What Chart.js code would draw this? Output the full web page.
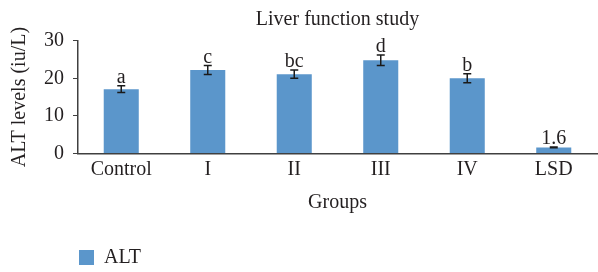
<!DOCTYPE html>
<html>
<head>
<meta charset="utf-8">
<script src="https://cdn.jsdelivr.net/npm/chart.js@4"></script>
<style>
  body { margin: 0; background: #fff; }
</style>
</head>
<body>
<canvas id="chart" width="598" height="272"></canvas>
<script>
const groups = ['Control', 'I', 'II', 'III', 'IV', 'LSD'];
const altValues = [17.1, 22.2, 21.1, 24.8, 20.0, 1.6];
const altErrors = [0.9, 1.2, 1.1, 1.4, 1.2, 0.1];
const letters = ['a', 'c', 'bc', 'd', 'b', '1.6'];
const yTicks = [0, 10, 20, 30];

const FONT = "'Liberation Serif', 'Times New Roman', serif";
const TEXT = '#231f20';
const SIZE = 20;

// error bars + letters above them
const errorBars = {
    id: 'errorBars',
    afterDatasetsDraw(chart) {
        const ctx = chart.ctx;
        const meta = chart.getDatasetMeta(0);
        const y = chart.scales.y;
        ctx.save();
        ctx.strokeStyle = '#1a1a1a';
        ctx.lineWidth = 1.5;
        ctx.fillStyle = TEXT;
        ctx.font = SIZE + 'px ' + FONT;
        ctx.textAlign = 'center';
        ctx.textBaseline = 'alphabetic';
        meta.data.forEach((bar, i) => {
            const x = bar.x;
            const top = y.getPixelForValue(altValues[i] + altErrors[i]);
            const bottom = y.getPixelForValue(altValues[i] - altErrors[i]);
            ctx.beginPath();
            ctx.moveTo(x, top); ctx.lineTo(x, bottom);
            ctx.moveTo(x - 4, top); ctx.lineTo(x + 4, top);
            ctx.moveTo(x - 4, bottom); ctx.lineTo(x + 4, bottom);
            ctx.stroke();
            ctx.fillText(letters[i], x, top - 3);
        });
        ctx.restore();
    }
};

new Chart(document.getElementById('chart').getContext('2d'), {
    type: 'bar',
    data: {
        labels: groups,
        datasets: [{
            label: 'ALT',
            data: altValues,
            backgroundColor: '#5b96cb',
            categoryPercentage: 1,
            barPercentage: 0.405
        }]
    },
    options: {
        responsive: false,
        animation: false,
        layout: { padding: { left: 8, right: 1, top: 0, bottom: -5.5 } },
        plugins: {
            title: {
                display: true,
                fullSize: false,
                text: 'Liver function study',
                color: TEXT,
                font: { family: FONT, size: SIZE, weight: 'normal' },
                padding: { top: 8, bottom: 8.7 }
            },
            legend: {
                position: 'bottom',
                align: 'start',
                fullSize: false,
                labels: {
                    color: TEXT,
                    font: { family: FONT, size: SIZE },
                    boxWidth: 15,
                    boxHeight: 15,
                    padding: 1
                }
            },
            tooltip: { enabled: false }
        },
        scales: {
            x: {
                grid: { display: false, drawTicks: false },
                border: { display: true, color: '#404040', width: 1.5 },
                ticks: { color: TEXT, font: { family: FONT, size: SIZE }, padding: 4 },
                title: {
                    display: true,
                    text: 'Groups',
                    color: TEXT,
                    font: { family: FONT, size: SIZE },
                    padding: { top: 5, bottom: 32 }
                }
            },
            y: {
                min: 0,
                max: 30,
                afterBuildTicks(scale) { scale.ticks = yTicks.map(v => ({ value: v })); },
                grid: { display: true, drawOnChartArea: false, drawTicks: true, tickLength: 5, color: '#404040' },
                border: { display: true, color: '#404040', width: 1.5 },
                ticks: { color: TEXT, font: { family: FONT, size: SIZE }, padding: 9 },
                title: {
                    display: true,
                    text: 'ALT levels (iu/L)',
                    color: TEXT,
                    font: { family: FONT, size: SIZE },
                    padding: { top: 0, bottom: 3 }
                }
            }
        }
    },
    plugins: [errorBars]
});
</script>
</body>
</html>
